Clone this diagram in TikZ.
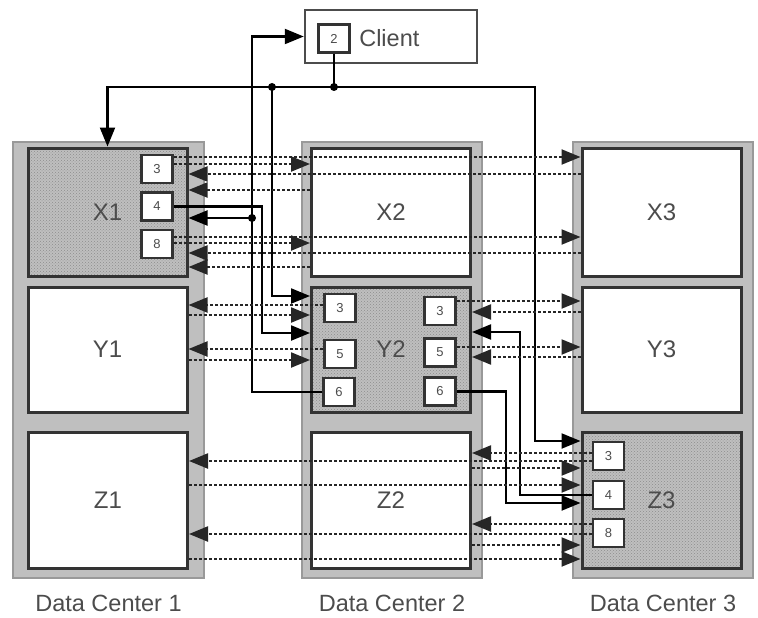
\documentclass[tikz,border=0pt]{standalone}
\usepackage{fontspec}
\setmainfont{Liberation Sans}
\usetikzlibrary{arrows.meta, positioning, patterns}

\begin{document}
\begin{tikzpicture}[
    x=1pt, y=-1pt,
    dcbox/.style={
      draw=black!40,
      line width=1.5pt,
      fill=gray!50,
      minimum width=180pt,
      minimum height=436pt,
      inner sep=0pt
    },
    server/.style={
      draw=black!80,
      line width=3pt,
      fill=white,
      text=black!70,
      minimum width=159pt,
      minimum height=125pt,
      inner sep=0pt,
      font=\fontsize{24}{28}\selectfont
    },
    leader/.style={server, preaction={fill=black!25}, pattern=crosshatch dots, pattern color=black!45},
    slot/.style={
      draw=black!80,
      line width=2.5pt,
      fill=white,
      text=black!70,
      minimum width=31pt,
      minimum height=28pt,
      inner sep=0pt,
      font=\fontsize{13}{15}\selectfont
    },
    tag/.style={text=black!70, font=\fontsize{23.5}{28}\selectfont},
    link/.style={line width=2.2pt},
    arrow/.style={link, -{Triangle[length=19pt, width=15pt]}},
    msg/.style={line width=2.2pt, black!85, dash pattern=on 3pt off 2pt, -{Triangle[length=19pt, width=15pt]}},
    junction/.style={circle, fill=black, inner sep=0pt, minimum size=8pt}
  ]
  \useasboundingbox (0,0) rectangle (758,618);

  % data centers
  \node[dcbox, minimum width=191pt] (dc1) at (108.5,360) {};
  \node[dcbox] (dc2) at (392,360) {};
  \node[dcbox] (dc3) at (663,360) {};
  \node[tag, below=13pt of dc1] (dc1-name) {Data Center 1};
  \node[tag, below=13pt of dc2] (dc2-name) {Data Center 2};
  \node[tag, below=13pt of dc3] (dc3-name) {Data Center 3};

  % servers
  \node[leader, minimum height=128pt] (x1) at (107.5,212) {X1};
  \node[server] (y1) at (107.5,349.5) {Y1};
  \node[server, minimum height=136pt] (z1) at (108,500) {Z1};
  \node[server, minimum height=128pt] (x2) at (391,212) {X2};
  \node[leader] (y2) at (391,349.5) {Y2};
  \node[server, minimum height=136pt] (z2) at (391,500) {Z2};
  \node[server, minimum height=128pt] (x3) at (661.5,212) {X3};
  \node[server] (y3) at (661.5,349.5) {Y3};
  \node[leader, minimum height=136pt] (z3) at (661.5,500) {Z3};

  % slots
  \node[slot] (x1-3) at (157,169) {3};
  \node[slot] (x1-4) at (157,206.5) {4};
  \node[slot] (x1-8) at (157,244) {8};
  \node[slot] (y2-3l) at (340,308) {3};
  \node[slot] (y2-5l) at (340,354) {5};
  \node[slot] (y2-6l) at (339,392) {6};
  \node[slot] (y2-3r) at (440,311) {3};
  \node[slot] (y2-5r) at (440,352.5) {5};
  \node[slot] (y2-6r) at (440,391.5) {6};
  \node[slot] (z3-3) at (608.5,456) {3};
  \node[slot] (z3-4) at (608.5,495) {4};
  \node[slot] (z3-8) at (608.5,533) {8};

  % client
  \node[draw=black!70, line width=2.5pt, fill=white, minimum width=172pt, minimum height=53pt] (client) at (391,36.5) {};
  \node[slot] (cl-2) at (334,38.5) {2};
  \node[tag, right=5pt of cl-2] (cl-name) {Client};

  % client fan-out
  \coordinate (bus) at (cl-2.south |- 0,87);
  \coordinate (tap) at (272,87);
  \coordinate (busend) at (535,87);
  \draw[link] (cl-2.south) -- (bus);
  \draw[arrow] (bus) -| (x1.north);
  \draw[arrow] (bus) -- (busend) |- (z3.west |- 0,441);
  \draw[arrow] (tap) |- (y2.west |- 0,296);

  % slot 6 answers
  \coordinate (riser) at (252,218);
  \draw[arrow] (y2-6l.west) -| (riser) |- (client.west);
  \draw[arrow] (riser) -- (x1.east |- riser);
  \draw[arrow] (y2-6r.east) -| (506,503) -- (z3.west |- 0,503);

  % slot 4 forwards
  \draw[arrow] (x1-4.east) -| (262,333) -- (y2.west |- 0,333);
  \draw[arrow] (z3-4.west) -| (520,332) -- (y2.east |- 0,332);

  % row X
  \draw[msg] (x1-3.east |- 0,157) -- (x3.west |- 0,157);
  \draw[msg] (x1-3.east |- 0,164) -- (x2.west |- 0,164);
  \draw[msg] (x3.west |- 0,174) -- (x1.east |- 0,174);
  \draw[msg] (x2.west |- 0,190) -- (x1.east |- 0,190);
  \draw[msg] (x1-8.east |- 0,237) -- (x3.west |- 0,237);
  \draw[msg] (x1-8.east |- 0,243) -- (x2.west |- 0,243);
  \draw[msg] (x3.west |- 0,253) -- (x1.east |- 0,253);
  \draw[msg] (x2.west |- 0,267) -- (x1.east |- 0,267);

  % row Y
  \draw[msg] (y2-3l.west |- 0,305) -- (y1.east |- 0,305);
  \draw[msg] (y1.east |- 0,315) -- (y2.west |- 0,315);
  \draw[msg] (y2-5l.west |- 0,349) -- (y1.east |- 0,349);
  \draw[msg] (y1.east |- 0,360) -- (y2.west |- 0,360);
  \draw[msg] (y2-3r.east |- 0,301) -- (y3.west |- 0,301);
  \draw[msg] (y3.west |- 0,312) -- (y2.east |- 0,312);
  \draw[msg] (y2-5r.east |- 0,347) -- (y3.west |- 0,347);
  \draw[msg] (y3.west |- 0,357) -- (y2.east |- 0,357);

  % row Z
  \draw[msg] (z3-3.west |- 0,453) -- (z2.east |- 0,453);
  \draw[msg] (z3-3.west |- 0,461) -- (z1.east |- 0,461);
  \draw[msg] (z2.east |- 0,468) -- (z3.west |- 0,468);
  \draw[msg] (z1.east |- 0,485) -- (z3.west |- 0,485);
  \draw[msg] (z3-8.west |- 0,524) -- (z2.east |- 0,524);
  \draw[msg] (z3-8.west |- 0,534) -- (z1.east |- 0,534);
  \draw[msg] (z2.east |- 0,545) -- (z3.west |- 0,545);
  \draw[msg] (z1.east |- 0,559) -- (z3.west |- 0,559);

  % junctions
  \node[junction] (bus-dot) at (bus) {};
  \node[junction] (tap-dot) at (tap) {};
  \node[junction] (riser-dot) at (riser) {};
\end{tikzpicture}
\end{document}
